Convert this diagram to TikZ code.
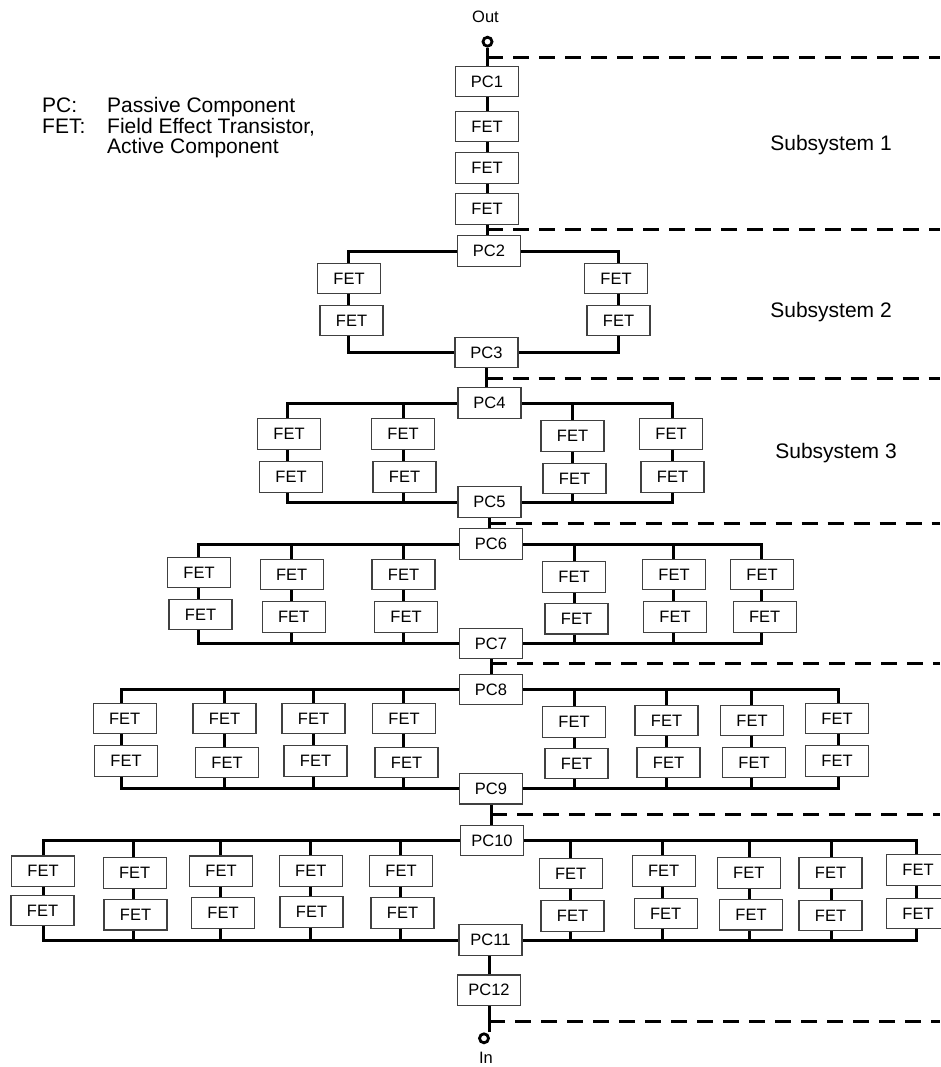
\documentclass[tikz,border=0pt]{standalone}
\usepackage{fontspec}
\setmainfont{Liberation Sans}

% one column of two series FETs hung between two passive components
% #1 name, #2 x of the column wire, #3/#4 upper FET, #5/#6 lower FET, #7 top PC, #8 bottom PC
\newcommand{\fetcol}[8]{%
  \coordinate (#1x) at (#2,0);
  \node[fetbox] (#1t) at (#3,#4) {FET};
  \node[fetbox] (#1b) at (#5,#6) {FET};
  \draw[wire] (#1x |- #7.west) -- (#1x |- #1t.north);
  \draw[wire] (#1x |- #1t.south) -- (#1x |- #1b.north);
  \draw[wire] (#1x |- #1b.south) -- (#1x |- #8.west);
}
% the two horizontal busses of a parallel stage: #1 leftmost column, #2 rightmost column
\newcommand{\busses}[4]{%
  \draw[wire] (#1x |- #1t.north) |- (#3.west);
  \draw[wire] (#2x |- #2t.north) |- (#3.east);
  \draw[wire] (#1x |- #1b.south) |- (#4.west);
  \draw[wire] (#2x |- #2b.south) |- (#4.east);
}

\begin{document}
\begin{tikzpicture}[x=1pt,y=-1pt,
  wire/.style={line width=3pt},
  dashline/.style={line width=3pt, dash pattern=on 16pt off 10pt},
  fetbox/.style={draw=black!75, line width=1.2pt, fill=white,
    minimum width=63pt, minimum height=30.5pt, inner sep=0pt,
    font=\fontsize{16.5}{19}\selectfont},
  pcbox/.style={fetbox},
  term/.style={circle, draw, line width=2.8pt, minimum size=9pt, inner sep=0pt},
  lbl/.style={font=\fontsize{21}{24}\selectfont, inner sep=0pt},
  leg/.style={font=\fontsize{21}{24}\selectfont, inner sep=0pt, anchor=base west},
  io/.style={font=\fontsize{16.5}{19}\selectfont, inner sep=0pt}]
\useasboundingbox (0,0) rectangle (940,1067);

% legend
\node[leg] (legpc) at (42,113) {PC:};
\node[leg] (legpct) at (107,113) {Passive Component};
\node[leg] (legfet) at (42,133.5) {FET:};
\node[leg] (legfett) at (107,133.5) {Field Effect Transistor,};
\node[leg] (legfett2) at (107,154) {Active Component};

% subsystem labels
\node[lbl] (sub1) at (831,145) {Subsystem 1};
\node[lbl] (sub2) at (831,312) {Subsystem 2};
\node[lbl] (sub3) at (836,453) {Subsystem 3};

% terminals
\node[io] (outl) at (485.5,17) {Out};
\node[term] (out) at (487.5,41.7) {};
\node[io] (inl) at (486,1057.5) {In};
\node[term] (in) at (484,1038.3) {};

% passive components on the main line
\node[pcbox] (pc1) at (487,81.5) {PC1};
\node[pcbox] (pc2) at (489,251) {PC2};
\node[pcbox] (pc3) at (486.5,352.5) {PC3};
\node[pcbox] (pc4) at (489.5,403) {PC4};
\node[pcbox] (pc5) at (489.5,502) {PC5};
\node[pcbox] (pc6) at (491,544) {PC6};
\node[pcbox] (pc7) at (491,643.5) {PC7};
\node[pcbox] (pc8) at (491,689.5) {PC8};
\node[pcbox] (pc9) at (491,788.7) {PC9};
\node[pcbox] (pc10) at (492,840.5) {PC10};
\node[pcbox] (pc11) at (490.5,940) {PC11};
\node[pcbox] (pc12) at (489,990.3) {PC12};

% subsystem 1: series chain
\node[fetbox] (s1a) at (487,126.5) {FET};
\node[fetbox] (s1b) at (487,168) {FET};
\node[fetbox] (s1c) at (487,209) {FET};

% main line
\draw[wire] (out.south) -- (out.south |- pc1.north);
\draw[wire] (pc1.south) -- (pc1.south |- s1a.north);
\draw[wire] (s1a.south) -- (s1a.south |- s1b.north);
\draw[wire] (s1b.south) -- (s1b.south |- s1c.north);
\draw[wire] (s1c.south) -- (s1c.south |- pc2.north);
\draw[wire] (pc3.south) -- (pc3.south |- pc4.north);
\draw[wire] (pc5.south) -- (pc5.south |- pc6.north);
\draw[wire] (pc7.south) -- (pc7.south |- pc8.north);
\draw[wire] (pc9.south) -- (pc9.south |- pc10.north);
\draw[wire] (pc12.north) -- (pc12.north |- pc11.south);
\draw[wire] (pc12.south) -- (pc12.south |- in.north);

% subsystem 2
\fetcol{s2a}{348}{349}{278.5}{351.5}{320.5}{pc2}{pc3}
\fetcol{s2b}{618}{616}{278.5}{618.5}{320.5}{pc2}{pc3}
\busses{s2a}{s2b}{pc2}{pc3}

% subsystem 3
\fetcol{s3a}{287}{289}{434}{291}{477}{pc4}{pc5}
\fetcol{s3b}{403}{403}{434}{404.5}{477}{pc4}{pc5}
\fetcol{s3c}{572}{572.5}{436}{574.5}{478.5}{pc4}{pc5}
\fetcol{s3d}{672}{671}{434}{672.5}{477}{pc4}{pc5}
\busses{s3a}{s3d}{pc4}{pc5}

% stage PC6 / PC7
\fetcol{s4a}{198}{199}{572.5}{200.5}{614.5}{pc6}{pc7}
\fetcol{s4b}{291}{291.6}{574.5}{293.6}{617}{pc6}{pc7}
\fetcol{s4c}{403.5}{403.5}{574.5}{406}{617}{pc6}{pc7}
\fetcol{s4d}{574}{574}{577}{576.5}{618.7}{pc6}{pc7}
\fetcol{s4e}{673}{674}{574.5}{675}{617}{pc6}{pc7}
\fetcol{s4f}{761}{762}{574.5}{764.6}{617}{pc6}{pc7}
\busses{s4a}{s4f}{pc6}{pc7}

% stage PC8 / PC9
\fetcol{s5a}{121}{124.6}{718.5}{126}{761}{pc8}{pc9}
\fetcol{s5b}{224.5}{224.5}{718.5}{227}{762.5}{pc8}{pc9}
\fetcol{s5c}{313}{313.5}{718.5}{315.5}{761}{pc8}{pc9}
\fetcol{s5d}{403}{404}{718.5}{406.5}{762.5}{pc8}{pc9}
\fetcol{s5e}{574}{574}{722}{576.5}{763.5}{pc8}{pc9}
\fetcol{s5f}{666.7}{666.5}{720.5}{668.5}{762.5}{pc8}{pc9}
\fetcol{s5g}{751}{752}{720.5}{754}{762.5}{pc8}{pc9}
\fetcol{s5h}{838}{837}{718.5}{837}{761}{pc8}{pc9}
\busses{s5a}{s5h}{pc8}{pc9}

% stage PC10 / PC11
\fetcol{s6a}{43.3}{43}{871.3}{42.5}{910.5}{pc10}{pc11}
\fetcol{s6b}{133.5}{134.7}{873}{135.5}{914.7}{pc10}{pc11}
\fetcol{s6c}{220.5}{221}{871.3}{223}{913}{pc10}{pc11}
\fetcol{s6d}{310.5}{310.8}{871}{311.5}{912}{pc10}{pc11}
\fetcol{s6e}{400.5}{401}{871}{402.5}{913}{pc10}{pc11}
\fetcol{s6f}{570.5}{570.7}{873.5}{572.5}{916}{pc10}{pc11}
\fetcol{s6g}{662.5}{663.7}{871}{665.7}{913.5}{pc10}{pc11}
\fetcol{s6h}{749}{748.8}{873}{751}{914.7}{pc10}{pc11}
\fetcol{s6i}{831}{830.5}{873}{830.5}{915.5}{pc10}{pc11}
\fetcol{s6j}{916.7}{918}{870}{918}{913.5}{pc10}{pc11}
\busses{s6a}{s6j}{pc10}{pc11}

% subsystem boundaries
\coordinate (r1) at (940,58);
\coordinate (r2) at (940,230);
\coordinate (r3) at (940,378);
\coordinate (r4) at (940,523);
\coordinate (r5) at (940,663);
\coordinate (r6) at (940,814);
\coordinate (r7) at (940,1021);
\draw[dashline] (pc1.north |- r1) -- (r1);
\draw[dashline] (s1c.south |- r2) -- (r2);
\draw[dashline] (pc3.south |- r3) -- (r3);
\draw[dashline] (pc5.south |- r4) -- (r4);
\draw[dashline] (pc7.south |- r5) -- (r5);
\draw[dashline] (pc9.south |- r6) -- (r6);
\draw[dashline] (pc12.south |- r7) -- (r7);
\end{tikzpicture}
\end{document}
